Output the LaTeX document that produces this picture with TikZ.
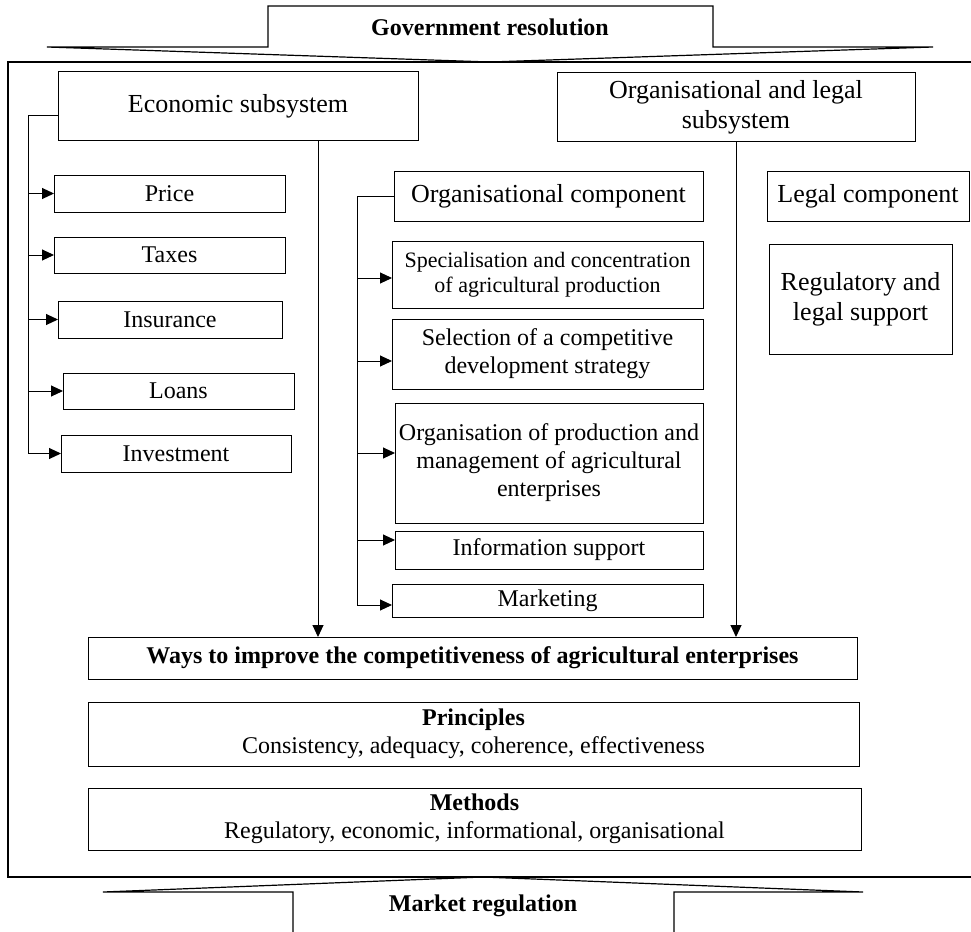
\documentclass[tikz,border=0pt]{standalone}
\usepackage{fontspec}
\setmainfont{Liberation Serif}
\usetikzlibrary{positioning,arrows.meta}
\tikzset{
	scheme/.style={x=1pt,y=-1pt,line width=1pt,>={Triangle[length=12pt,width=11pt]}},
	block/.style={draw,rectangle,inner sep=2pt,outer sep=0pt,align=center,
		font=\fontsize{24}{28}\selectfont},
	bigblock/.style={block,font=\fontsize{26}{30}\selectfont},
	smallblock/.style={block,font=\fontsize{22}{25}\selectfont},
	flow/.style={->,line width=1pt},
	banner/.style={line width=1.2pt,line join=miter},
	title/.style={font=\fontsize{24}{28}\selectfont\bfseries}
}

\begin{document}
\begin{tikzpicture}[scheme]
\useasboundingbox (0,0) rectangle (971,931);
\clip (0,0) rectangle (971,931);

% outer frame and the two big arrows
\draw[line width=1.2pt] (8,62) rectangle (980,877);
\draw[banner] (47,47) -- (268,47) -- (268,6) -- (713,6) -- (713,47) -- (933,47) -- (490,62) -- cycle;
\node[title] (gov) at (490,27) {Government resolution};
\draw[banner] (293,940) -- (293,892) -- (103,892) -- (483,877) -- (863,892) -- (674,892) -- (674,940);
\node[title] (mkt) at (483,906) {Market regulation};

% subsystems
\node[bigblock, minimum width=360pt, minimum height=68pt] (econ) at (238,106) {Economic subsystem};
\node[bigblock, minimum width=358pt, minimum height=68pt] (orglegal) at (736,107) {Organisational and legal\\subsystem};

% economic levers
\node[block, minimum width=231pt, minimum height=37pt] (price) at (169.5,193.5) {Price};
\node[block, minimum width=231pt, minimum height=36pt] (taxes) at (169.5,255) {Taxes};
\node[block, minimum width=224pt, minimum height=37pt] (insurance) at (170,319.5) {Insurance};
\node[block, minimum width=231pt, minimum height=36pt] (loans) at (178.5,391) {Loans};
\node[block, minimum width=230pt, minimum height=37pt] (invest) at (176,453.5) {Investment};

% organisational component
\node[bigblock, minimum width=309pt, minimum height=50pt] (orgcomp) at (548.5,196) {Organisational component};
\node[smallblock, minimum width=311pt, minimum height=67pt] (spec) at (547.5,274.5) {Specialisation and concentration\\of agricultural production};
\node[block, minimum width=311pt, minimum height=70pt] (select) at (547.5,354) {Selection of a competitive\\development strategy};
\node[block, minimum width=308pt, minimum height=120pt] (orgprod) at (549,463) {Organisation of production and\\management of agricultural\\enterprises};
\node[block, minimum width=308pt, minimum height=38pt] (info) at (549,550) {Information support};
\node[block, minimum width=311pt, minimum height=33pt] (market) at (547.5,600.5) {Marketing};

% legal component
\node[bigblock, minimum width=202pt, minimum height=50pt] (legal) at (868,196) {Legal component};
\node[bigblock, minimum width=183pt, minimum height=110pt] (regul) at (860.5,299) {Regulatory and\\legal support};

% result, principles, methods
\node[block, minimum width=769pt, minimum height=42pt] (ways) at (472.5,658) {\textbf{Ways to improve the competitiveness of agricultural enterprises}};
\node[block, minimum width=771pt, minimum height=64pt] (princ) at (473.5,734) {\textbf{Principles}\\Consistency, adequacy, coherence, effectiveness};
\node[block, minimum width=773pt, minimum height=62pt] (methods) at (474.5,819) {\textbf{Methods}\\Regulatory, economic, informational, organisational};

% brackets
\coordinate (ebus) at (28,116);
\draw (ebus -| econ.west) -- (ebus) -- (ebus |- invest.west);
\foreach \b in {price,taxes,insurance,loans,invest}
	\draw[flow] (ebus |- \b.west) -- (\b.west);

\coordinate (obus) at (357,196);
\coordinate (oend) at (357,605);
\draw (orgcomp.west) -- (obus) -- (oend);
\foreach \b/\dy in {spec/3.5,select/7,orgprod/-10,info/-10,market/4.5}
	\draw[flow] ([yshift=-\dy pt]obus |- \b.west) -- ([yshift=-\dy pt]\b.west);

% subsystems feed the result
\coordinate (ecol) at (318,0);
\draw[flow] (econ.south -| ecol) -- (ways.north -| ecol);
\draw[flow] (orglegal.south) -- (ways.north -| orglegal.south);
\end{tikzpicture}
\end{document}
